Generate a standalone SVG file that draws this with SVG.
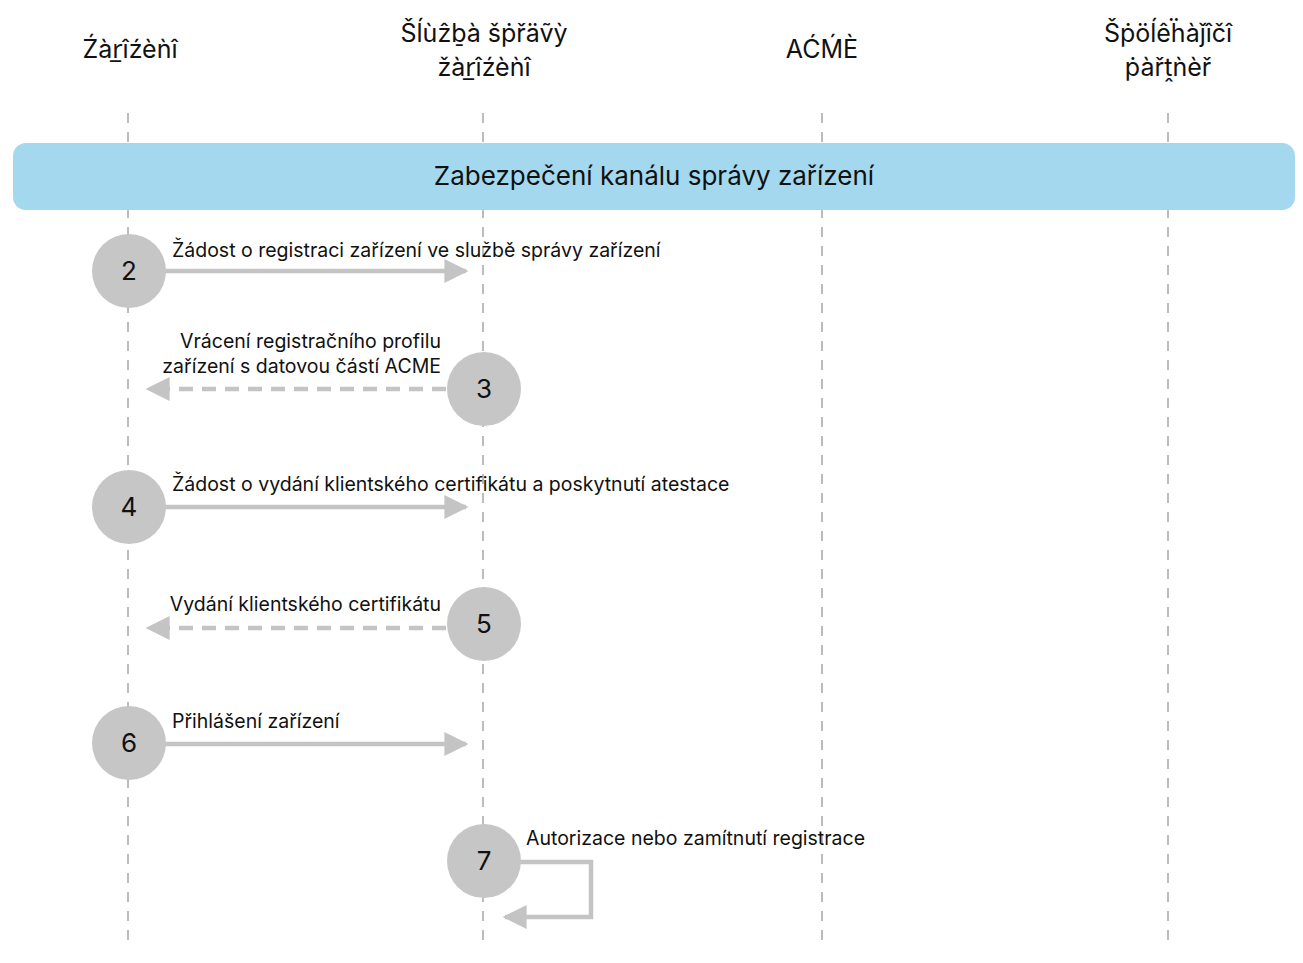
<svg xmlns="http://www.w3.org/2000/svg" width="1303" height="963" viewBox="0 0 1303 963">
<style>
text{font-family:Inter,"Noto Sans",sans-serif;fill:#111}
.h{font-size:25px;text-anchor:middle}
.l{font-size:19.5px}
.n{font-size:26px;text-anchor:middle}
.life{stroke:#999;stroke-width:1.3;stroke-dasharray:10,9;fill:none}
.ar{stroke:#c4c4c4;stroke-width:4.5;fill:none}
.c{fill:#c6c6c6}
</style>
<defs><marker id="a" markerWidth="8" markerHeight="8" refX="6" refY="4" orient="auto" markerUnits="userSpaceOnUse" viewBox="0 0 8 8"><path d="M0,0 L8,4 L0,8Z" fill="#c4c4c4"/></marker>
<marker id="ah" viewBox="0 0 10 10" refX="9" refY="5" markerWidth="24" markerHeight="24" markerUnits="userSpaceOnUse" orient="auto"><path d="M0,0 L10,5 L0,10Z" fill="#c4c4c4"/></marker></defs>
<g id="headers">
<text class="h" x="130" y="58">Źàr̲îźèǹî</text>
<text class="h" x="484" y="42">Šĺùẑḇà šṗřäṽỳ</text>
<text class="h" x="484" y="76">žàr̲îźèǹî</text>
<text class="h" x="822" y="58">AĆḾÈ</text>
<text class="h" x="1168" y="42">Šṗöĺêḧàǰîčî</text>
<text class="h" x="1168" y="76">ṗàřṱǹèř</text>
</g>
<g id="lifelines">
<line class="life" x1="128" y1="113" x2="128" y2="948"/>
<line class="life" x1="483" y1="113" x2="483" y2="948"/>
<line class="life" x1="822" y1="113" x2="822" y2="948"/>
<line class="life" x1="1168" y1="113" x2="1168" y2="948"/>
</g>
<g id="banner"><rect x="13" y="143" width="1282" height="67" rx="13" fill="#a3d8ef"/><text x="654" y="185" font-size="26" text-anchor="middle">Zabezpečení kanálu správy zařízení</text></g>
<g id="connectors">
<path class="ar" d="M160,271 H466" marker-end="url(#ah)"/>
<path class="ar" d="M446,389 H148" stroke-dasharray="14,9" marker-end="url(#ah)"/>
<path class="ar" d="M160,507 H466" marker-end="url(#ah)"/>
<path class="ar" d="M446,628 H148" stroke-dasharray="14,9" marker-end="url(#ah)"/>
<path class="ar" d="M160,744 H466" marker-end="url(#ah)"/>
<path class="ar" d="M520,862 H591 V917 H505" marker-end="url(#ah)"/>
</g>
<g id="labels">
<text class="l" x="172" y="257">Žádost o registraci zařízení ve službě správy zařízení</text>
<text class="l" x="441" y="348" text-anchor="end">Vrácení registračního profilu</text>
<text class="l" x="441" y="373" text-anchor="end">zařízení s datovou částí ACME</text>
<text class="l" x="172" y="491">Žádost o vydání klientského certifikátu a poskytnutí atestace</text>
<text class="l" x="441" y="611" text-anchor="end">Vydání klientského certifikátu</text>
<text class="l" x="172" y="728">Přihlášení zařízení</text>
<text class="l" x="526" y="845">Autorizace nebo zamítnutí registrace</text>
</g>
<g id="n2"><circle class="c" cx="129" cy="271" r="37"/><text class="n" x="129" y="280">2</text></g>
<g id="n3"><circle class="c" cx="484" cy="389" r="37"/><text class="n" x="484" y="398">3</text></g>
<g id="n4"><circle class="c" cx="129" cy="507" r="37"/><text class="n" x="129" y="516">4</text></g>
<g id="n5"><circle class="c" cx="484" cy="624" r="37"/><text class="n" x="484" y="633">5</text></g>
<g id="n6"><circle class="c" cx="129" cy="743" r="37"/><text class="n" x="129" y="752">6</text></g>
<g id="n7"><circle class="c" cx="484" cy="861" r="37"/><text class="n" x="484" y="870">7</text></g>
</svg>
